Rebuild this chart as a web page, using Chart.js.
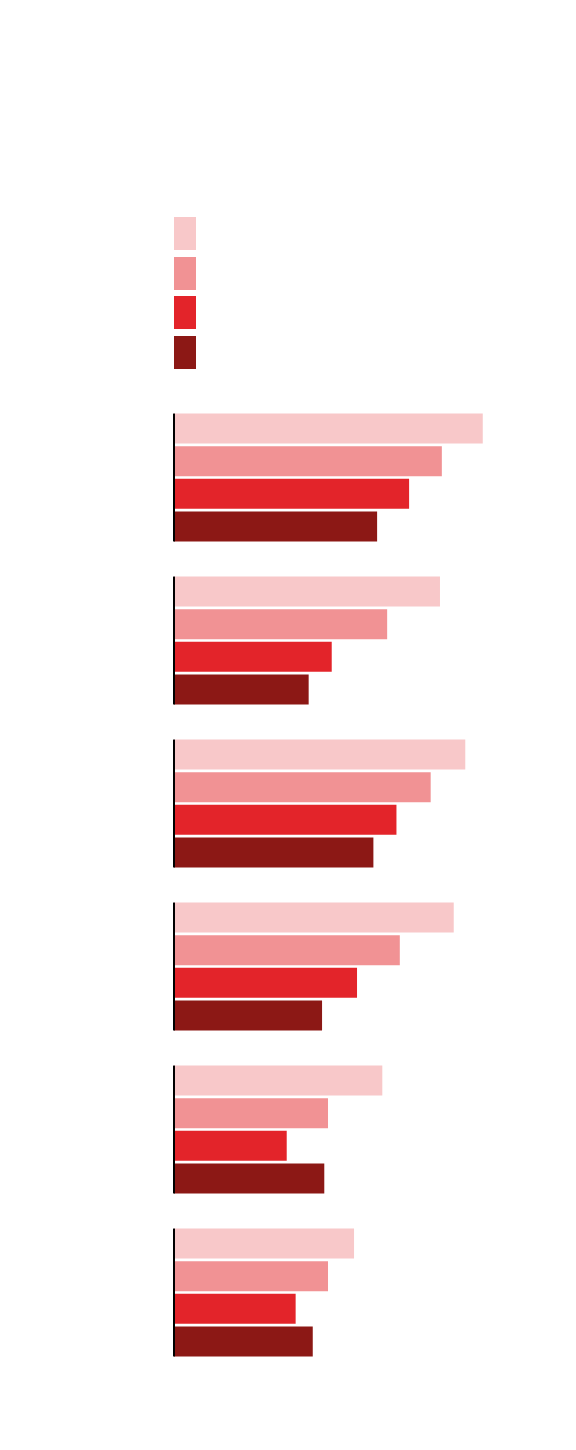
<!DOCTYPE html>
<html>
<head>
<meta charset="utf-8">
<script src="https://cdn.jsdelivr.net/npm/chart.js@4"></script>
<style>
    body { margin: 0; background: #fff; }
    #wrap { position: relative; width: 576px; height: 1450px; }
    #chart { position: absolute; left: 0; top: 0; }
    #legend { position: absolute; left: 174px; top: 217px; }
    .swatch { width: 22px; height: 33px; margin-bottom: 6.5px; }
</style>
</head>
<body>
<div id="wrap">
    <div id="legend"></div>
    <canvas id="chart" width="576" height="1450"></canvas>
</div>
<script>
// 資料 (no labels are shown in the picture)
const categories = ['1', '2', '3', '4', '5', '6'];
const series1 = [83.0, 71.5, 78.3, 75.2, 56.0, 48.4];
const series2 = [72.0, 57.3, 69.0, 60.7, 41.4, 41.4];
const series3 = [63.2, 42.4, 59.8, 49.2, 30.3, 32.7];
const series4 = [54.6, 36.2, 53.6, 39.8, 40.4, 37.3];
const seriesNames = ['1', '2', '3', '4'];
const colors = ['#f8c8c9', '#f19294', '#e3242a', '#8c1815'];

// legend squares
const legend = document.getElementById('legend');
colors.forEach(c => {
    const d = document.createElement('div');
    d.className = 'swatch';
    d.style.background = c;
    legend.appendChild(d);
});

// black base line, one piece per group
const baseLine = {
    id: 'baseLine',
    afterDatasetsDraw(chart) {
        const ctx = chart.ctx;
        const x0 = chart.scales.x.getPixelForValue(0);
        const first = chart.getDatasetMeta(0).data;
        const last = chart.getDatasetMeta(3).data;
        ctx.save();
        ctx.fillStyle = '#000';
        first.forEach((bar, i) => {
            const top = bar.y - bar.height / 2;
            const bottom = last[i].y + last[i].height / 2;
            ctx.fillRect(x0 - 1, top, 2, bottom - top);
        });
        ctx.restore();
    }
};

const data = [series1, series2, series3, series4];
new Chart(document.getElementById('chart'), {
    type: 'bar',
    data: {
        labels: categories,
        datasets: data.map((d, i) => ({
            label: seriesNames[i],
            data: d,
            backgroundColor: colors[i],
            borderWidth: 0,
            categoryPercentage: 0.801,
            barPercentage: 0.918
        }))
    },
    options: {
        indexAxis: 'y',
        responsive: false,
        animation: false,
        devicePixelRatio: 1,
        layout: { padding: { left: 174, right: 30, top: 396, bottom: 76 } },
        plugins: { legend: { display: false }, tooltip: { enabled: false } },
        scales: {
            x: { display: false, min: 0, max: 100 },
            y: { display: false }
        }
    },
    plugins: [baseLine]
});
</script>
</body>
</html>
